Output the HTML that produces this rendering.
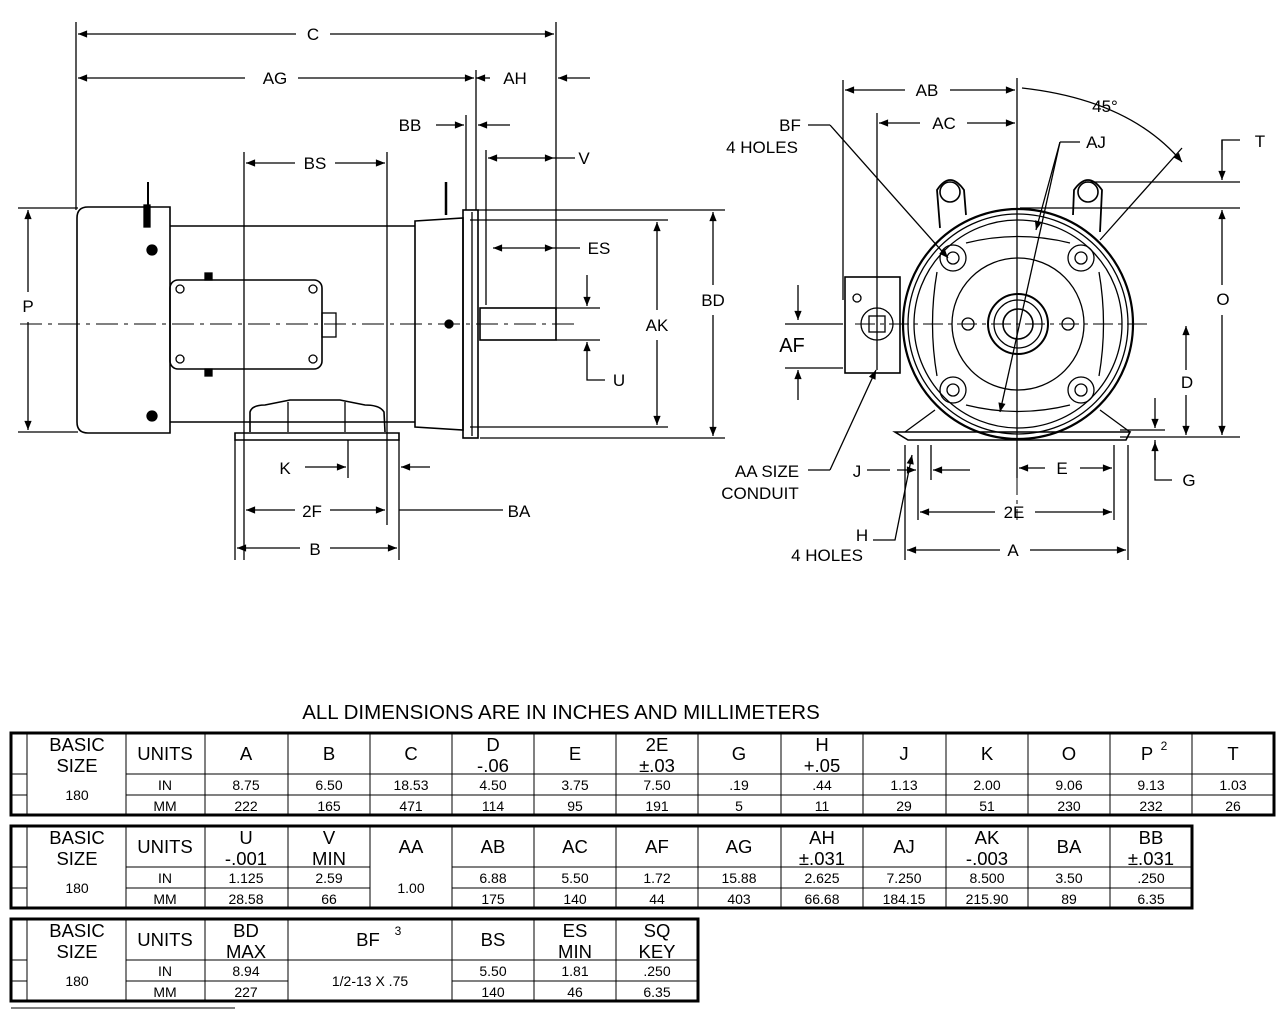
<!DOCTYPE html>
<html><head><meta charset="utf-8"><style>
html,body{margin:0;padding:0;background:#fff;}
svg{display:block;font-family:"Liberation Sans",Arial,sans-serif;}
</style></head><body>
<svg width="1280" height="1011" viewBox="0 0 1280 1011" xmlns="http://www.w3.org/2000/svg">
<defs>
<marker id="a" viewBox="0 0 10 10" refX="10" refY="5" markerWidth="9" markerHeight="7" orient="auto-start-reverse"><path d="M0,1 L10,5 L0,9z" fill="#000"/></marker>
</defs>
<g stroke="#000" stroke-width="1.3" fill="none">
<!-- ===== SIDE VIEW ===== -->
<line x1="76" y1="22" x2="76" y2="210"/>
<line x1="556" y1="22" x2="556" y2="310"/>
<line x1="476" y1="70" x2="476" y2="210"/>
<line x1="466" y1="115" x2="466" y2="210"/>
<line x1="486" y1="150" x2="486" y2="305"/>
<line x1="244" y1="152" x2="244" y2="560"/>
<line x1="387" y1="152" x2="387" y2="525"/>
<line x1="235" y1="440" x2="235" y2="560"/>
<line x1="399" y1="440" x2="399" y2="560"/>
<line x1="348" y1="440" x2="348" y2="478"/>
<line x1="18" y1="208" x2="78" y2="208"/>
<line x1="18" y1="432" x2="78" y2="432"/>
<line x1="478" y1="210" x2="725" y2="210"/>
<line x1="480" y1="438" x2="725" y2="438"/>
<line x1="470" y1="220" x2="668" y2="220"/>
<line x1="470" y1="427" x2="668" y2="427"/>
<line x1="556" y1="308" x2="600" y2="308"/>
<line x1="556" y1="340" x2="600" y2="340"/>
<line x1="78" y1="34" x2="296" y2="34" marker-start="url(#a)"/>
<line x1="330" y1="34" x2="554" y2="34" marker-end="url(#a)"/>
<line x1="78" y1="78" x2="245" y2="78" marker-start="url(#a)"/>
<line x1="298" y1="78" x2="474" y2="78" marker-end="url(#a)"/>
<line x1="490" y1="78" x2="476" y2="78" marker-end="url(#a)"/>
<line x1="590" y1="78" x2="558" y2="78" marker-end="url(#a)"/>
<line x1="436" y1="125" x2="464" y2="125" marker-end="url(#a)"/>
<line x1="510" y1="125" x2="478" y2="125" marker-end="url(#a)"/>
<line x1="488" y1="158" x2="554" y2="158" marker-start="url(#a)" marker-end="url(#a)"/>
<line x1="554" y1="158" x2="575" y2="158"/>
<line x1="246" y1="163" x2="295" y2="163" marker-start="url(#a)"/>
<line x1="335" y1="163" x2="385" y2="163" marker-end="url(#a)"/>
<line x1="493" y1="248" x2="554" y2="248" marker-start="url(#a)" marker-end="url(#a)"/>
<line x1="554" y1="248" x2="580" y2="248"/>
<line x1="587" y1="275" x2="587" y2="306" marker-end="url(#a)"/>
<line x1="587" y1="375" x2="587" y2="342" marker-end="url(#a)"/>
<polyline points="587,375 587,380 605,380"/>
<line x1="28" y1="210" x2="28" y2="292" marker-start="url(#a)"/>
<line x1="28" y1="322" x2="28" y2="430" marker-end="url(#a)"/>
<line x1="657" y1="222" x2="657" y2="310" marker-start="url(#a)"/>
<line x1="657" y1="340" x2="657" y2="425" marker-end="url(#a)"/>
<line x1="713" y1="212" x2="713" y2="285" marker-start="url(#a)"/>
<line x1="713" y1="315" x2="713" y2="436" marker-end="url(#a)"/>
<line x1="305" y1="467" x2="346" y2="467" marker-end="url(#a)"/>
<line x1="430" y1="467" x2="401" y2="467" marker-end="url(#a)"/>
<line x1="246" y1="510" x2="295" y2="510" marker-start="url(#a)"/>
<line x1="330" y1="510" x2="385" y2="510" marker-end="url(#a)"/>
<line x1="399" y1="510" x2="503" y2="510"/>
<line x1="237" y1="548" x2="300" y2="548" marker-start="url(#a)"/>
<line x1="330" y1="548" x2="397" y2="548" marker-end="url(#a)"/>
<line x1="20" y1="324" x2="575" y2="324" stroke-dasharray="22,6,4,6" stroke-width="1"/>
<path d="M88,207 L170,207 L170,433 L88,433 Q77,433 77,422 L77,218 Q77,207 88,207z" stroke-width="1.6"/>
<line x1="170" y1="226" x2="415" y2="226" stroke-width="1.6"/>
<line x1="170" y1="422" x2="415" y2="422" stroke-width="1.6"/>
<path d="M415,221 L463,218 L463,430 L415,427z" stroke-width="1.6"/>
<rect x="463" y="210" width="15" height="228" stroke-width="1.6"/>
<line x1="472" y1="212" x2="472" y2="436"/>
<rect x="480" y="308" width="76" height="32" stroke-width="1.6"/>
<line x1="148" y1="182" x2="148" y2="205" stroke-width="2"/>
<rect x="144" y="205" width="6" height="22" fill="#000"/>
<line x1="446" y1="182" x2="446" y2="215" stroke-width="2.5"/>
<circle cx="152" cy="250" r="5" fill="#000"/>
<circle cx="152" cy="416" r="5" fill="#000"/>
<circle cx="449" cy="324" r="4" fill="#000"/>
<rect x="170" y="280" width="152" height="89" rx="8" stroke-width="1.6"/>
<circle cx="180" cy="289" r="4"/><circle cx="313" cy="289" r="4"/>
<circle cx="180" cy="359" r="4"/><circle cx="313" cy="359" r="4"/>
<rect x="322" y="313" width="14" height="24"/>
<rect x="205" y="273" width="7" height="7" fill="#000"/>
<rect x="205" y="369" width="7" height="7" fill="#000"/>
<path d="M250,432 L250,412 Q252,405 265,405 L290,400 L340,400 L365,405 Q380,405 384,412 L385,432" stroke-width="1.6"/>
<line x1="288" y1="402" x2="288" y2="432"/><line x1="345" y1="402" x2="345" y2="432"/>
<path d="M235,433 L399,433 L399,440 L235,440z" stroke-width="1.6"/>

<!-- ===== FRONT VIEW ===== -->
<line x1="843" y1="80" x2="843" y2="300"/>
<line x1="877" y1="113" x2="877" y2="370"/>
<line x1="1017" y1="78" x2="1017" y2="478"/>
<line x1="1017" y1="135" x2="1017" y2="520" stroke-dasharray="20,5,4,5" stroke-width="1"/>
<line x1="855" y1="324" x2="1150" y2="324" stroke-dasharray="20,5,4,5" stroke-width="1"/>
<line x1="845" y1="90" x2="905" y2="90" marker-start="url(#a)"/>
<line x1="950" y1="90" x2="1015" y2="90" marker-end="url(#a)"/>
<line x1="879" y1="123" x2="920" y2="123" marker-start="url(#a)"/>
<line x1="967" y1="123" x2="1015" y2="123" marker-end="url(#a)"/>
<path d="M1022,88 Q1130,100 1182,162" marker-end="url(#a)"/>
<line x1="1182" y1="148" x2="1100" y2="240"/>
<line x1="808" y1="125" x2="830" y2="125"/>
<line x1="830" y1="125" x2="948" y2="258" marker-end="url(#a)"/>
<line x1="1080" y1="142" x2="1060" y2="142"/>
<line x1="1060" y1="142" x2="1000" y2="412" marker-end="url(#a)"/>
<line x1="1036" y1="230" x2="1060" y2="142" marker-start="url(#a)"/>
<line x1="1085" y1="182" x2="1240" y2="182"/>
<line x1="1020" y1="208" x2="1240" y2="208"/>
<line x1="1120" y1="437" x2="1240" y2="437"/>
<line x1="1222" y1="140" x2="1222" y2="180" marker-end="url(#a)"/>
<polyline points="1222,150 1222,140 1240,140"/>
<line x1="1222" y1="210" x2="1222" y2="285" marker-start="url(#a)"/>
<line x1="1222" y1="315" x2="1222" y2="435" marker-end="url(#a)"/>
<line x1="1186" y1="326" x2="1186" y2="370" marker-start="url(#a)"/>
<line x1="1186" y1="395" x2="1186" y2="435" marker-end="url(#a)"/>
<line x1="1120" y1="430" x2="1165" y2="430"/>
<line x1="1155" y1="398" x2="1155" y2="428" marker-end="url(#a)"/>
<polyline points="1155,440 1155,480 1172,480"/>
<line x1="1155" y1="460" x2="1155" y2="442" marker-end="url(#a)"/>
<line x1="798" y1="285" x2="798" y2="320" marker-end="url(#a)"/>
<line x1="798" y1="400" x2="798" y2="370" marker-end="url(#a)"/>
<line x1="785" y1="324" x2="843" y2="324"/>
<line x1="785" y1="368" x2="843" y2="368"/>
<line x1="808" y1="470" x2="830" y2="470"/>
<line x1="830" y1="470" x2="876" y2="370" marker-end="url(#a)"/>
<line x1="867" y1="470" x2="890" y2="470"/>
<line x1="918" y1="445" x2="918" y2="520"/>
<line x1="931" y1="445" x2="931" y2="480"/>
<line x1="1114" y1="445" x2="1114" y2="520"/>
<line x1="905" y1="445" x2="905" y2="560"/>
<line x1="1128" y1="445" x2="1128" y2="560"/>
<line x1="897" y1="470" x2="916" y2="470" marker-end="url(#a)"/>
<line x1="970" y1="470" x2="933" y2="470" marker-end="url(#a)"/>
<line x1="1019" y1="468" x2="1045" y2="468" marker-start="url(#a)"/>
<line x1="1080" y1="468" x2="1112" y2="468" marker-end="url(#a)"/>
<line x1="920" y1="512" x2="995" y2="512" marker-start="url(#a)"/>
<line x1="1035" y1="512" x2="1112" y2="512" marker-end="url(#a)"/>
<line x1="907" y1="550" x2="1000" y2="550" marker-start="url(#a)"/>
<line x1="1030" y1="550" x2="1126" y2="550" marker-end="url(#a)"/>
<polyline points="873,540 895,540 912,455" marker-end="url(#a)"/>
<path d="M940,228 L937,190 Q950,170 964,190 L966,215" stroke-width="1.8"/>
<circle cx="950" cy="192" r="10" stroke-width="1.6"/>
<path d="M1073,215 L1074,190 Q1088,170 1102,190 L1100,232" stroke-width="1.8"/>
<circle cx="1088" cy="192" r="10" stroke-width="1.6"/>
<circle cx="1018" cy="324" r="115" stroke-width="2.2"/>
<circle cx="1018" cy="324" r="110"/>
<circle cx="1018" cy="324" r="104"/>
<path d="M966,243 Q1018,230 1070,243 M966,405 Q1018,418 1070,405 M937,272 Q928,324 937,376 M1099,272 Q1108,324 1099,376"/>
<circle cx="1018" cy="324" r="66"/>
<circle cx="1018" cy="324" r="30" stroke-width="2"/>
<circle cx="1018" cy="324" r="24"/>
<circle cx="1018" cy="324" r="15" stroke-width="1.6"/>
<circle cx="968" cy="324" r="6"/><circle cx="1068" cy="324" r="6"/>
<circle cx="953" cy="258" r="6"/><circle cx="1081" cy="258" r="6"/>
<circle cx="953" cy="390" r="6"/><circle cx="1081" cy="390" r="6"/>
<circle cx="953" cy="258" r="13"/><circle cx="1081" cy="258" r="13"/>
<circle cx="953" cy="390" r="13"/><circle cx="1081" cy="390" r="13"/>
<rect x="845" y="277" width="55" height="96" stroke-width="1.6"/>
<circle cx="877" cy="324" r="16"/>
<rect x="869" y="316" width="16" height="16"/>
<circle cx="857" cy="298" r="4"/>
<path d="M905,432 L935,410 M1130,432 L1100,410"/>
<path d="M895,432 L1130,432 L1126,440 L908,440z" stroke-width="1.6"/>
</g>
<g font-size="17" fill="#000" text-anchor="middle">
<text x="313" y="40">C</text>
<text x="275" y="84">AG</text>
<text x="515" y="84">AH</text>
<text x="410" y="131">BB</text>
<text x="584" y="164">V</text>
<text x="315" y="169">BS</text>
<text x="599" y="254">ES</text>
<text x="619" y="386">U</text>
<text x="28" y="312">P</text>
<text x="657" y="331">AK</text>
<text x="713" y="306">BD</text>
<text x="285" y="474">K</text>
<text x="312" y="517">2F</text>
<text x="519" y="517">BA</text>
<text x="315" y="555">B</text>
<text x="927" y="96">AB</text>
<text x="944" y="129">AC</text>
<text x="1105" y="112">45°</text>
<text x="790" y="131">BF</text>
<text x="762" y="153">4 HOLES</text>
<text x="1096" y="148">AJ</text>
<text x="1260" y="147">T</text>
<text x="1223" y="305">O</text>
<text x="1187" y="388">D</text>
<text x="1189" y="486">G</text>
<text x="792" y="352" font-size="20">AF</text>
<text x="767" y="477">AA SIZE</text>
<text x="760" y="499">CONDUIT</text>
<text x="857" y="477">J</text>
<text x="1062" y="474">E</text>
<text x="1014" y="518">2E</text>
<text x="1013" y="556">A</text>
<text x="862" y="541">H</text>
<text x="827" y="561">4 HOLES</text>
<text x="561" y="719" font-size="20.5">ALL DIMENSIONS ARE IN INCHES AND MILLIMETERS</text>
</g>

<g stroke="#000" fill="none" stroke-width="1">
<rect x="11" y="733" width="1263" height="82" stroke-width="3"/>
<line x1="27" y1="733" x2="27" y2="815"/>
<line x1="126" y1="733" x2="126" y2="815"/>
<line x1="11" y1="774" x2="27" y2="774"/><line x1="11" y1="795" x2="27" y2="795"/>
<line x1="126" y1="774" x2="1274" y2="774"/><line x1="126" y1="795" x2="1274" y2="795"/>
<path d="M205,733V815M288,733V815M370,733V815M452,733V815M534,733V815M616,733V815M698,733V815M781,733V815M863,733V815M946,733V815M1028,733V815M1110,733V815M1192,733V815"/>
<rect x="11" y="826" width="1181" height="82" stroke-width="3"/>
<line x1="27" y1="826" x2="27" y2="908"/>
<line x1="126" y1="826" x2="126" y2="908"/>
<line x1="11" y1="867" x2="27" y2="867"/><line x1="11" y1="888" x2="27" y2="888"/>
<line x1="126" y1="867" x2="370" y2="867"/><line x1="126" y1="888" x2="370" y2="888"/>
<line x1="452" y1="867" x2="1192" y2="867"/><line x1="452" y1="888" x2="1192" y2="888"/>
<path d="M205,826V908M288,826V908M370,826V908M452,826V908M534,826V908M616,826V908M698,826V908M781,826V908M863,826V908M946,826V908M1028,826V908M1110,826V908"/>
<rect x="11" y="919" width="687" height="82" stroke-width="3"/>
<line x1="27" y1="919" x2="27" y2="1001"/>
<line x1="126" y1="919" x2="126" y2="1001"/>
<line x1="11" y1="960" x2="27" y2="960"/><line x1="11" y1="981" x2="27" y2="981"/>
<line x1="126" y1="960" x2="698" y2="960"/><line x1="126" y1="981" x2="288" y2="981"/>
<line x1="452" y1="981" x2="698" y2="981"/>
<path d="M205,919V1001M288,919V1001M452,919V1001M534,919V1001M616,919V1001"/>
<line x1="11" y1="1008" x2="235" y2="1008"/>
</g>
<g fill="#000" text-anchor="middle" font-size="18.5">
<text x="77" y="751">BASIC</text><text x="77" y="772">SIZE</text>
<text x="165" y="760">UNITS</text>
<text x="246" y="760">A</text><text x="329" y="760">B</text><text x="411" y="760">C</text>
<text x="493" y="751">D</text><text x="493" y="772">-.06</text>
<text x="575" y="760">E</text>
<text x="657" y="751">2E</text><text x="657" y="772">±.03</text>
<text x="739" y="760">G</text>
<text x="822" y="751">H</text><text x="822" y="772">+.05</text>
<text x="904" y="760">J</text><text x="987" y="760">K</text><text x="1069" y="760">O</text>
<text x="1147" y="760">P</text><text x="1164" y="750" font-size="12">2</text>
<text x="1233" y="760">T</text>
<text x="77" y="844">BASIC</text><text x="77" y="865">SIZE</text>
<text x="165" y="853">UNITS</text>
<text x="246" y="844">U</text><text x="246" y="865">-.001</text>
<text x="329" y="844">V</text><text x="329" y="865">MIN</text>
<text x="411" y="853">AA</text><text x="493" y="853">AB</text><text x="575" y="853">AC</text>
<text x="657" y="853">AF</text><text x="739" y="853">AG</text>
<text x="822" y="844">AH</text><text x="822" y="865">±.031</text>
<text x="904" y="853">AJ</text>
<text x="987" y="844">AK</text><text x="987" y="865">-.003</text>
<text x="1069" y="853">BA</text>
<text x="1151" y="844">BB</text><text x="1151" y="865">±.031</text>
<text x="77" y="937">BASIC</text><text x="77" y="958">SIZE</text>
<text x="165" y="946">UNITS</text>
<text x="246" y="937">BD</text><text x="246" y="958">MAX</text>
<text x="368" y="946">BF</text><text x="398" y="935" font-size="12">3</text>
<text x="493" y="946">BS</text>
<text x="575" y="937">ES</text><text x="575" y="958">MIN</text>
<text x="657" y="937">SQ</text><text x="657" y="958">KEY</text>
</g>
<g fill="#000" text-anchor="middle" font-size="14">
<text x="77" y="800">180</text><text x="165" y="790">IN</text><text x="165" y="811">MM</text>
<text x="246" y="790">8.75</text><text x="329" y="790">6.50</text><text x="411" y="790">18.53</text><text x="493" y="790">4.50</text><text x="575" y="790">3.75</text><text x="657" y="790">7.50</text><text x="739" y="790">.19</text><text x="822" y="790">.44</text><text x="904" y="790">1.13</text><text x="987" y="790">2.00</text><text x="1069" y="790">9.06</text><text x="1151" y="790">9.13</text><text x="1233" y="790">1.03</text>
<text x="246" y="811">222</text><text x="329" y="811">165</text><text x="411" y="811">471</text><text x="493" y="811">114</text><text x="575" y="811">95</text><text x="657" y="811">191</text><text x="739" y="811">5</text><text x="822" y="811">11</text><text x="904" y="811">29</text><text x="987" y="811">51</text><text x="1069" y="811">230</text><text x="1151" y="811">232</text><text x="1233" y="811">26</text>
<text x="77" y="893">180</text><text x="165" y="883">IN</text><text x="165" y="904">MM</text>
<text x="246" y="883">1.125</text><text x="329" y="883">2.59</text><text x="411" y="893">1.00</text><text x="493" y="883">6.88</text><text x="575" y="883">5.50</text><text x="657" y="883">1.72</text><text x="739" y="883">15.88</text><text x="822" y="883">2.625</text><text x="904" y="883">7.250</text><text x="987" y="883">8.500</text><text x="1069" y="883">3.50</text><text x="1151" y="883">.250</text>
<text x="246" y="904">28.58</text><text x="329" y="904">66</text><text x="493" y="904">175</text><text x="575" y="904">140</text><text x="657" y="904">44</text><text x="739" y="904">403</text><text x="822" y="904">66.68</text><text x="904" y="904">184.15</text><text x="987" y="904">215.90</text><text x="1069" y="904">89</text><text x="1151" y="904">6.35</text>
<text x="77" y="986">180</text><text x="165" y="976">IN</text><text x="165" y="997">MM</text>
<text x="246" y="976">8.94</text><text x="370" y="986">1/2-13 X .75</text><text x="493" y="976">5.50</text><text x="575" y="976">1.81</text><text x="657" y="976">.250</text>
<text x="246" y="997">227</text><text x="493" y="997">140</text><text x="575" y="997">46</text><text x="657" y="997">6.35</text>
</g>
</svg>
</body></html>
